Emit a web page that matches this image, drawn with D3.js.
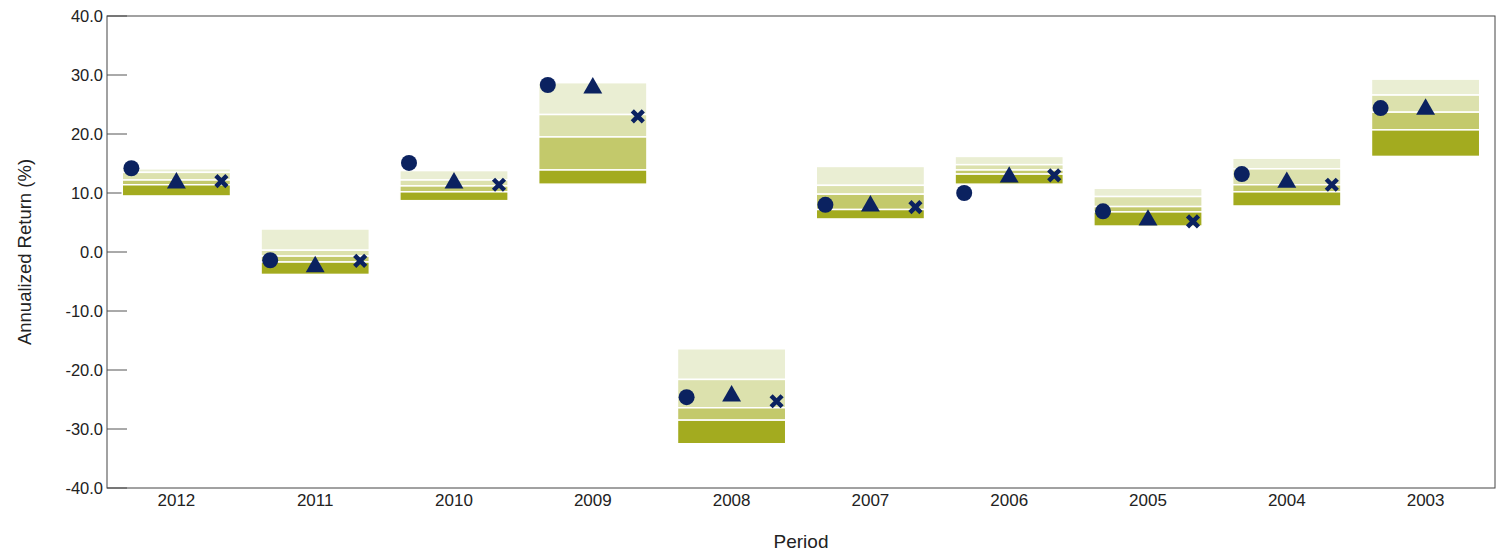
<!DOCTYPE html>
<meta charset="utf-8">
<script src="https://d3js.org/d3.v7.min.js"></script>
<style>
  body { margin: 0; background: #fff; }
  text { font-family: "Liberation Sans", Arial, sans-serif; fill: #222; }
</style>
<body>
<svg width="1501" height="553"></svg>
<script>
var periods = ['2012','2011','2010','2009','2008','2007','2006','2005','2004','2003'];

// percentile bands: 5th, 25th, median, 75th, 95th
var p05 = [14.1, 3.9, 13.8, 28.7, -16.4, 14.5, 16.2, 10.8, 15.9, 29.3];
var p25 = [13.5, 0.3, 12.2, 23.3, -21.6, 11.3, 14.8, 9.4, 14.1, 26.6];
var p50 = [12.2, -0.7, 11.2, 19.5, -26.4, 9.8, 13.9, 7.7, 11.4, 23.7];
var p75 = [11.4, -1.7, 10.2, 13.9, -28.5, 7.2, 13.2, 6.8, 10.2, 20.7];
var p95 = [9.5, -3.8, 8.7, 11.5, -32.5, 5.6, 11.5, 4.4, 7.8, 16.2];

var fund = [14.2, -1.4, 15.1, 28.3, -24.6, 8.0, 10.0, 6.9, 13.2, 24.4];
var benchA = [11.7, -2.5, 11.7, 27.8, -24.4, 7.8, 12.7, 5.4, 11.8, 24.2];
var benchB = [12.0, -1.5, 11.4, 23.0, -25.3, 7.6, 13.0, 5.2, 11.4, null];

var yTicks = [40, 30, 20, 10, 0, -10, -20, -30, -40];
var bandColors = ['#eaeed3', '#dce1ad', '#c3c96b', '#a3ab1f'];
var navy = '#0b2260';

var margin = {left: 107, right: 6, top: 16, bottom: 65};
var W = 1501, H = 553;
var svg = d3.select('svg');

var x = d3.scaleBand().domain(periods).range([margin.left, W - margin.right]).padding(0);
var y = d3.scaleLinear().domain([-40, 40]).range([H - margin.bottom, margin.top]);

var boxW = x.bandwidth() * 0.78;
var cx = function(i){ return x(periods[i]) + x.bandwidth() / 2; };

// y axis ticks (inside) and labels
svg.append('g').selectAll('line').data(yTicks).enter().append('line')
  .attr('x1', margin.left).attr('x2', margin.left + 20)
  .attr('y1', function(d){ return y(d); }).attr('y2', function(d){ return y(d); })
  .attr('stroke', '#555').attr('stroke-width', 1);

svg.append('g').selectAll('text').data(yTicks).enter().append('text')
  .attr('x', margin.left - 4).attr('y', function(d){ return y(d); })
  .attr('dy', '0.35em').attr('text-anchor', 'end')
  .style('font-size', '16.5px')
  .text(function(d){ return d.toFixed(1); });

// bands
var bands = [];
periods.forEach(function(p, i){
  var q = [p05[i], p25[i], p50[i], p75[i], p95[i]];
  for (var k = 0; k < 4; k++) bands.push({i: i, k: k, top: q[k], bot: q[k + 1]});
});

svg.append('g').selectAll('rect').data(bands).enter().append('rect')
  .attr('x', function(d){ return cx(d.i) - boxW / 2; })
  .attr('width', boxW)
  .attr('y', function(d){ return y(d.top); })
  .attr('height', function(d){ return Math.max(0, y(d.bot) - y(d.top)); })
  .attr('fill', function(d){ return bandColors[d.k]; })
  .attr('stroke', '#fff').attr('stroke-width', 1.5);

// markers
var off = 45;
var g = svg.append('g');
g.selectAll('circle').data(fund).enter().append('circle')
  .attr('cx', function(d, i){ return cx(i) - off; })
  .attr('cy', function(d){ return y(d); })
  .attr('r', 8).attr('fill', navy);

var tri = d3.symbol().type(d3.symbolTriangle).size(155);
g.selectAll('path.tri').data(benchA).enter().append('path')
  .attr('class', 'tri')
  .attr('transform', function(d, i){ return 'translate(' + cx(i) + ',' + y(d) + ')'; })
  .attr('d', tri).attr('fill', navy);

g.selectAll('g.cross').data(benchB.map(function(v, i){ return {v: v, i: i}; })
    .filter(function(d){ return d.v !== null; }))
  .enter().append('g').attr('class', 'cross')
  .attr('transform', function(d){ return 'translate(' + (cx(d.i) + off) + ',' + y(d.v) + ')'; })
  .each(function(){
    var s = 5.5;
    d3.select(this).append('path')
      .attr('d', 'M' + (-s) + ',' + (-s) + 'L' + s + ',' + s + 'M' + s + ',' + (-s) + 'L' + (-s) + ',' + s)
      .attr('stroke', navy).attr('stroke-width', 4.5).attr('stroke-linecap', 'butt');
  });

// frame
svg.append('rect')
  .attr('x', margin.left).attr('y', margin.top)
  .attr('width', W - margin.right - margin.left).attr('height', H - margin.bottom - margin.top)
  .attr('fill', 'none').attr('stroke', '#444').attr('stroke-width', 1);

// x labels
svg.append('g').selectAll('text').data(periods).enter().append('text')
  .attr('x', function(d, i){ return cx(i); })
  .attr('y', H - margin.bottom + 18)
  .attr('text-anchor', 'middle')
  .style('font-size', '17px')
  .text(function(d){ return d; });

svg.append('text')
  .attr('x', (margin.left + W - margin.right) / 2).attr('y', 548)
  .attr('text-anchor', 'middle').style('font-size', '19px')
  .text('Period');

svg.append('text')
  .attr('transform', 'translate(31,' + y(0) + ') rotate(-90)')
  .attr('text-anchor', 'middle').style('font-size', '18.5px')
  .text('Annualized Return (%)');
</script>
